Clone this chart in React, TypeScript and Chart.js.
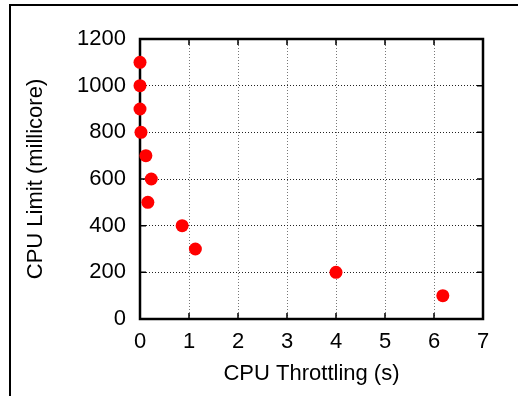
import React, { useEffect, useRef } from "react";
import { Chart, registerables } from "chart.js";

Chart.register(...registerables);

// Measured CPU throttling (seconds) for each CPU limit setting (millicore)
const throttlingSeconds = [0, 0, 0, 0.02, 0.12, 0.23, 0.16, 0.86, 1.13, 4.0, 6.18];
const cpuLimitMillicore = [1100, 1000, 900, 800, 700, 600, 500, 400, 300, 200, 100];

const xTicks = [0, 1, 2, 3, 4, 5, 6, 7];
const yTicks = [0, 200, 400, 600, 800, 1000, 1200];

const FONT = '"Liberation Sans", Arial, Helvetica, sans-serif';
const FONT_SIZE = 22;

// Frame around the plot area plus short inward tick marks on all four sides
const frameAndTicks = {
  id: "frameAndTicks",
  beforeDatasetsDraw(chart: any) {
    const { ctx, chartArea: a, scales } = chart;
    const tick = 6;
    ctx.save();
    ctx.strokeStyle = "#000";
    ctx.lineWidth = 1.5;
    ctx.beginPath();
    for (const v of xTicks) {
      const px = scales.x.getPixelForValue(v);
      ctx.moveTo(px, a.bottom);
      ctx.lineTo(px, a.bottom - tick);
      ctx.moveTo(px, a.top);
      ctx.lineTo(px, a.top + tick);
    }
    for (const v of yTicks) {
      const py = scales.y.getPixelForValue(v);
      ctx.moveTo(a.left, py);
      ctx.lineTo(a.left + tick, py);
      ctx.moveTo(a.right, py);
      ctx.lineTo(a.right - tick, py);
    }
    ctx.stroke();
    ctx.lineWidth = 2.5;
    ctx.strokeRect(a.left, a.top, a.right - a.left, a.bottom - a.top);
    ctx.restore();
  },
};

export default function App() {
  const canvasRef = useRef<HTMLCanvasElement | null>(null);

  useEffect(() => {
    const canvas = canvasRef.current;
    if (!canvas) return;
    const chart = new Chart(canvas, {
      type: "scatter",
      data: {
        datasets: [
          {
            data: throttlingSeconds.map((x, i) => ({ x, y: cpuLimitMillicore[i] })),
            backgroundColor: "#ff0000",
            borderWidth: 0,
            pointRadius: 6.5,
            pointHoverRadius: 6.5,
            clip: false as any,
          },
        ],
      },
      options: {
        responsive: false,
        animation: false,
        events: [],
        layout: { padding: { left: 0, top: 39, right: 35, bottom: 0 } },
        plugins: {
          legend: { display: false },
          tooltip: { enabled: false },
        },
        scales: {
          x: {
            type: "linear",
            min: 0,
            max: 7,
            afterBuildTicks: (s: any) => {
              s.ticks = xTicks.map((value) => ({ value }));
            },
            afterFit: (s: any) => {
              s.height = 77;
            },
            // dotted grid lines
            border: { display: false, dash: [1, 2] },
            grid: {
              color: (c: any) => (c.tick && (c.tick.value === 0 || c.tick.value === 7) ? "rgba(0,0,0,0)" : "#777"),
              lineWidth: 1,
              drawTicks: false,
              tickLength: 0,
            } as any,
            ticks: {
              color: "#000",
              font: { family: FONT, size: FONT_SIZE },
              padding: 10,
              maxRotation: 0,
              callback: (v: any) => String(v),
            },
            title: {
              display: true,
              text: "CPU Throttling (s)",
              color: "#000",
              font: { family: FONT, size: FONT_SIZE },
              padding: { top: 0, bottom: 9 },
            },
          },
          y: {
            type: "linear",
            min: 0,
            max: 1200,
            afterBuildTicks: (s: any) => {
              s.ticks = yTicks.map((value) => ({ value }));
            },
            afterFit: (s: any) => {
              s.width = 140;
            },
            border: { display: false, dash: [1, 2] },
            grid: {
              color: (c: any) => (c.tick && (c.tick.value === 0 || c.tick.value === 1200) ? "rgba(0,0,0,0)" : "#222"),
              lineWidth: 1,
              drawTicks: false,
              tickLength: 0,
            } as any,
            ticks: {
              color: "#000",
              font: { family: FONT, size: FONT_SIZE },
              padding: 14,
              callback: (v: any) => String(v),
            },
            title: {
              display: true,
              text: "CPU Limit (millicore)",
              color: "#000",
              font: { family: FONT, size: FONT_SIZE },
              padding: { top: 23, bottom: 0 },
            },
          },
        },
      },
      plugins: [frameAndTicks],
    });
    return () => chart.destroy();
  }, []);

  return (
    <div style={{ position: "absolute", left: 0, top: 0, width: 518, height: 396, background: "#fff", overflow: "hidden" }}>
      <div
        style={{
          position: "absolute",
          left: 9,
          top: 4,
          width: 600,
          height: 500,
          borderTop: "2px solid #000",
          borderLeft: "2px solid #000",
        }}
      />
      <canvas ref={canvasRef} width={518} height={396} style={{ position: "absolute", left: 0, top: 0 }} />
    </div>
  );
}
